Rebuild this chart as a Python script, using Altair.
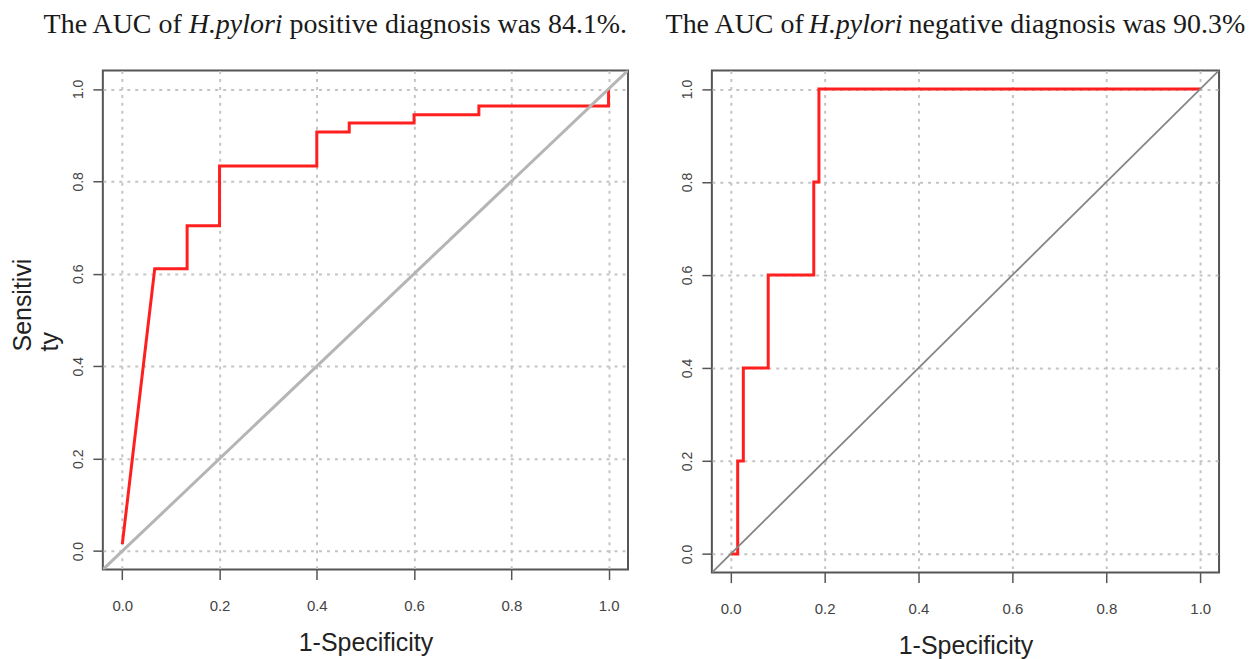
import altair as alt
import pandas as pd

# ---- data ----
tick_values = [0.0, 0.2, 0.4, 0.6, 0.8, 1.0]
axis_domain = [-0.04, 1.04]
ref_line = [-0.04, 1.04]          # y = x reference diagonal

# H. pylori positive (left panel)
pos_fpr = [0.0, 0.0667, 0.1333, 0.1333, 0.2, 0.2, 0.4, 0.4, 0.4667, 0.4667,
           0.6, 0.6, 0.7333, 0.7333, 1.0, 1.0]
pos_tpr = [0.015, 0.611, 0.611, 0.704, 0.704, 0.833, 0.833, 0.907, 0.907, 0.926,
           0.926, 0.944, 0.944, 0.963, 0.963, 1.0]

# H. pylori negative (right panel)
neg_fpr = [0.0, 0.015, 0.015, 0.027, 0.027, 0.08, 0.08, 0.177, 0.177, 0.188, 0.188, 1.0]
neg_tpr = [0.0, 0.0, 0.2, 0.2, 0.4, 0.4, 0.6, 0.6, 0.8, 0.8, 1.0, 1.0]

title_pos = ["The AUC of", "H.pylori", "positive diagnosis was 84.1%."]
title_neg = ["The AUC of", "H.pylori", "negative diagnosis was 90.3%"]
x_title = "1-Specificity"
y_title = ["Sensitivi", "ty"]

SANS = "Liberation Sans"
SERIF = "Liberation Serif"


def panel(fpr, tpr, tparts, tx, w, h, ytitle, curve_w, diag_color, diag_w, xtitle_y):
    df = pd.DataFrame({"fpr": fpr, "tpr": tpr, "i": list(range(len(fpr)))})
    diag = pd.DataFrame({"fpr": ref_line, "tpr": ref_line, "i": [0, 1]})
    sc = alt.Scale(domain=axis_domain, nice=False, zero=False)
    common = dict(
        values=tick_values, format=".1f", grid=True, gridColor="#c4c4c4",
        gridDash=[3, 5], gridWidth=2, domain=False, ticks=True, tickSize=10,
        tickColor="#555555", tickWidth=1.5, labelFont=SANS, labelColor="#444444",
        titleFont=SANS, titleFontWeight="normal", titleColor="#222222",
    )
    xaxis = alt.Axis(labelFontSize=15, labelPadding=19, titleFontSize=25,
                     titleBaseline="alphabetic", titleY=xtitle_y, **common)
    yargs = dict(labelFontSize=14, labelAngle=270, labelAlign="center",
                 labelBaseline="alphabetic", labelPadding=10, **common)
    if ytitle is not None:
        yaxis = alt.Axis(titleFontSize=25, titleAngle=270, titleAlign="left",
                         titleBaseline="alphabetic", titleX=-72, titleY=281,
                         titleLineHeight=27, **yargs)
        ytitle_val = ytitle
    else:
        yaxis = alt.Axis(**yargs)
        ytitle_val = None

    curve = alt.Chart(df).mark_line(color="#ff1f1f", strokeWidth=curve_w, clip=True).encode(
        x=alt.X("fpr:Q", scale=sc, axis=xaxis, title=x_title),
        y=alt.Y("tpr:Q", scale=sc, axis=yaxis, title=ytitle_val),
        order="i:Q",
    )
    ref = alt.Chart(diag).mark_line(color=diag_color, strokeWidth=diag_w, clip=True).encode(
        x=alt.X("fpr:Q"), y=alt.Y("tpr:Q"), order="i:Q"
    )
    layers = [curve, ref]
    aligns = ["right", "left", "left"]
    styles = ["normal", "italic", "normal"]
    for text, xpos, al, st in zip(tparts, tx, aligns, styles):
        d = pd.DataFrame({"t": [text]})
        layers.append(
            alt.Chart(d).mark_text(align=al, baseline="alphabetic", font=SERIF,
                                   fontSize=28, fontStyle=st, color="#1a1a1a").encode(
                x=alt.value(xpos), y=alt.value(-37), text="t:N")
        )
    return alt.layer(*layers).properties(width=w, height=h)


left = panel(pos_fpr, pos_tpr, title_pos, [79, 86, 187], 526, 500, y_title,
             3, "#b5b5b5", 3, 81)
right = panel(neg_fpr, neg_tpr, title_neg, [92, 97, 197], 508, 503, None,
              3, "#858585", 1.8, 81)

chart = alt.hconcat(left, right, spacing=84, bounds="flush").properties(
    padding={"left": 2, "top": 2, "right": 0, "bottom": 0}
).configure_view(stroke="#555555", strokeWidth=2)

chart.save("out.html", embed_options={"renderer": "svg", "actions": False})
